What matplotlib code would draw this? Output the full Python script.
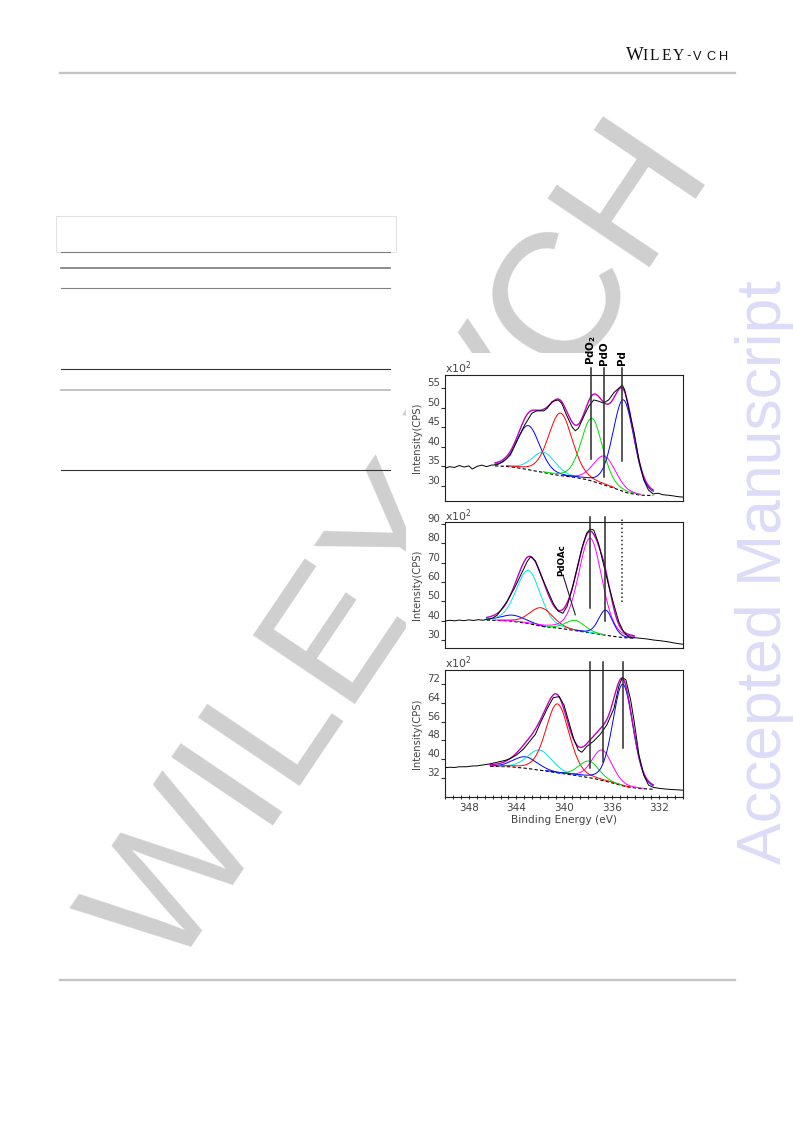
import matplotlib
matplotlib.use("Agg")
import matplotlib.pyplot as plt
import numpy as np
from matplotlib.patches import Rectangle
from matplotlib.ticker import AutoMinorLocator


# ---------------- data ----------------
# binding energy (eV) / counts (x100 CPS)

# top panel
p1_raw_ev = [350.0, 349.6, 349.2, 348.8, 348.4, 348.0, 347.7, 347.3, 346.9, 346.5,
             346.1, 345.6, 345.1, 344.5, 343.8, 343.3, 342.7, 342.3, 341.7, 341.4,
             341.0, 340.5, 340.2, 339.8, 339.3, 339.05, 338.8, 338.35, 337.9, 337.5,
             337.1, 336.7, 336.25, 335.8, 335.4, 335.1, 334.9, 334.6, 334.1, 333.7,
             333.3, 332.9, 332.5, 332.1, 331.7, 331.3, 330.8, 330.4, 330.0]
p1_raw_cps = [34.5, 34.9, 34.7, 35.2, 34.8, 35.1, 34.3, 35.0, 35.3, 34.9,
              35.3, 35.4, 36.2, 37.9, 42.6, 45.6, 48.6, 49.2, 49.2, 49.9,
              51.6, 52.0, 51.2, 48.2, 45.0, 44.1, 44.7, 47.7, 50.5, 52.0,
              51.7, 51.2, 52.0, 53.9, 55.0, 55.8, 54.6, 50.3, 43.5, 36.6,
              31.5, 28.9, 27.9, 28.1, 27.7, 27.6, 27.4, 27.2, 27.1]
p1_bg_ev = [345.8, 345.0, 344.1, 343.3, 342.6, 341.7, 340.9, 340.0, 339.2, 338.1,
            337.0, 335.8, 334.7, 333.6, 332.5]
p1_bg_cps = [35.1, 35.0, 34.7, 34.3, 33.9, 33.4, 32.9, 32.5, 32.2, 31.6,
             30.6, 29.4, 28.2, 27.6, 27.5]
p1_peak_ev = [343.0, 341.7, 340.3, 337.65, 336.6, 335.0]
p1_peak_height = [11.3, 5.2, 16.0, 16.1, 7.4, 23.5]
p1_peak_fwhm = [2.25, 2.3, 2.35, 2.1, 2.2, 2.1]
p1_marker_ev = [337.7, 336.6, 335.1]
p1_marker_low = [36.8, 32.3, 36.4]
p1_marker_labels = [r"$\mathbf{PdO_2}$", "PdO", "Pd"]

# middle panel
p2_raw_ev = [350.0, 349.6, 349.2, 348.8, 348.4, 348.0, 347.6, 347.2, 346.8, 346.5,
             346.0, 345.6, 344.8, 344.1, 343.5, 343.1, 342.8, 342.4, 342.0, 341.4,
             340.9, 340.5, 340.1, 339.75, 339.3, 338.9, 338.5, 338.1, 337.8, 337.5,
             337.1, 336.7, 336.25, 335.8, 335.4, 335.0, 334.6, 334.1, 333.6, 333.0,
             332.5, 331.9, 331.3, 330.7, 330.3, 330.0]
p2_raw_cps = [39.8, 40.2, 39.9, 40.3, 40.0, 40.4, 40.1, 40.5, 40.2, 40.7,
              41.3, 42.9, 49.8, 57.6, 65.3, 70.5, 73.1, 70.9, 64.5, 55.9,
              49.0, 45.0, 43.8, 47.2, 56.7, 67.1, 77.4, 85.2, 87.4, 86.9,
              80.0, 69.7, 58.4, 48.1, 39.5, 34.3, 31.7, 31.2, 30.9, 30.5,
              30.0, 29.6, 29.1, 28.4, 28.0, 27.8]
p2_bg_ev = [346.5, 345.5, 344.5, 343.1, 341.7, 340.3, 338.9, 337.5, 336.1, 335.0, 334.1]
p2_bg_cps = [40.3, 40.1, 39.8, 38.6, 36.9, 36.0, 34.7, 33.4, 32.1, 31.2, 30.9]
p2_peak_ev = [344.25, 343.0, 341.9, 339.05, 337.8, 336.5]
p2_peak_height = [3.2, 27.5, 9.5, 5.3, 49.0, 13.0]
p2_peak_fwhm = [2.5, 2.4, 2.3, 1.9, 2.3, 1.4]
p2_marker_ev = [337.8, 336.55, 335.1]
p2_marker_low = [46.4, 39.8, 49.8]
p2_marker_dotted = [False, False, True]

# bottom panel
p3_raw_ev = [350.0, 349.6, 349.2, 348.8, 348.2, 347.8, 347.3, 346.9, 346.5, 346.0,
             345.4, 344.9, 344.5, 344.0, 343.4, 342.8, 342.4, 342.0, 341.4, 340.9,
             340.4, 340.0, 339.6, 339.2, 338.8, 338.5, 338.1, 337.5, 336.95, 336.4,
             335.8, 335.4, 335.1, 334.8, 334.4, 334.1, 333.7, 333.3, 332.9, 332.5,
             331.9, 331.3, 330.7, 330.0]
p3_raw_cps = [36.3, 36.5, 36.4, 36.7, 36.7, 37.0, 37.1, 37.4, 37.7, 38.2,
              38.9, 39.5, 40.3, 41.7, 44.3, 48.1, 50.6, 55.3, 61.7, 66.3,
              66.7, 63.1, 56.0, 48.9, 43.9, 42.9, 45.3, 47.7, 50.6, 54.6,
              61.7, 71.0, 74.9, 73.9, 65.3, 56.0, 41.7, 33.1, 28.9, 27.9,
              27.4, 27.1, 26.9, 26.7]
p3_bg_ev = [346.2, 345.4, 344.5, 343.1, 341.7, 340.3, 338.9, 337.5, 336.1, 334.7, 333.6, 332.5]
p3_bg_cps = [36.9, 36.8, 36.7, 36.0, 35.0, 33.9, 32.9, 31.7, 30.0, 28.1, 27.4, 27.1]
p3_peak_ev = [343.25, 342.05, 340.55, 337.9, 336.8, 335.05]
p3_peak_height = [4.9, 8.6, 29.5, 7.1, 13.0, 43.4]
p3_peak_fwhm = [2.4, 2.4, 2.3, 2.0, 2.0, 2.0]
p3_marker_ev = [337.8, 336.7, 335.05]
p3_marker_low = [36.3, 38.8, 44.6]

x_ticks = [348, 344, 340, 336, 332]
p1_yticks = [30, 35, 40, 45, 50, 55]
p2_yticks = [30, 40, 50, 60, 70, 80, 90]
p3_yticks = [32, 40, 48, 56, 64, 72]

# component colours in CasaXPS order
COMP_COLORS = ["#0000ff", "#00e5ee", "#ff0000", "#00dd00", "#ff00ff", "#0000ff"]
ENV_COLOR = "#c000c0"
TXT = "#444444"

W, H = 793, 1121
fig = plt.figure(figsize=(W / 100, H / 100), dpi=100)

# ---------------- page furniture ----------------
page = fig.add_axes([0, 0, 1, 1])
page.set_xlim(0, W)
page.set_ylim(H, 0)
page.axis("off")

# watermark, then the white patch of the embedded figure on top of it
page.text(404, 549, "WILEY-VCH", rotation=56, rotation_mode="anchor",
          ha="center", va="center", fontsize=128, family="Liberation Sans",
          color="#cfcfcf", zorder=1)
page.add_patch(Rectangle((406, 353), 294, 487, facecolor="white",
                         edgecolor="none", zorder=2))

page.text(781, 572, "Accepted Manuscript", rotation=90, rotation_mode="anchor",
          ha="center", va="baseline", fontsize=45, family="Liberation Sans",
          color="#dcdcf8", zorder=3)

# header logo, letter by letter
for ch, xc, size, fam in [("W", 634.5, 13.5, "Liberation Serif"),
                          ("I", 644.9, 11.2, "Liberation Serif"),
                          ("L", 654.6, 11.2, "Liberation Serif"),
                          ("E", 666.3, 11.2, "Liberation Serif"),
                          ("Y", 678.8, 11.2, "Liberation Serif"),
                          ("-", 688.3, 9.2, "Liberation Sans"),
                          ("V", 697.5, 9.2, "Liberation Sans"),
                          ("C", 710.8, 9.2, "Liberation Sans"),
                          ("H", 723.8, 9.2, "Liberation Sans")]:
    page.text(xc, 59.5, ch, ha="center", va="baseline", fontsize=size,
              family=fam, color="#111111", zorder=3)

page.plot([60, 735], [73, 73], color="#c4c4c4", lw=1.7, zorder=3)
page.plot([60, 735], [980, 980], color="#c4c4c4", lw=1.7, zorder=3)

# table rules
page.add_patch(Rectangle((55.5, 216), 340, 35.5, fill=False,
                         edgecolor="#e2e2e2", lw=0.8, zorder=3))
for y, c, lw in [(252.3, "#808080", 0.8), (268, "#7a7a7a", 1.2),
                 (288.3, "#808080", 0.8), (369.3, "#333333", 0.8),
                 (390, "#b8b8b8", 1.2), (470, "#333333", 0.8)]:
    page.plot([61, 390], [y, y], color=c, lw=lw, zorder=3)


# ---------------- spectra ----------------
def pseudo_voigt(x, centre, height, fwhm, mix=0.2):
    d = (x - centre) / fwhm
    return height * ((1 - mix) * np.exp(-4 * np.log(2) * d ** 2) + mix / (1 + 4 * d ** 2))


def draw_spectrum(ax, raw_ev, raw_cps, bg_ev, bg_cps, centres, heights, fwhms):
    grid = np.linspace(min(bg_ev), max(bg_ev), 400)
    bg = np.interp(grid, bg_ev[::-1], bg_cps[::-1])
    ax.plot(bg_ev, bg_cps, color="black", lw=0.8, ls=(0, (3, 2)), zorder=2)
    total = np.zeros_like(grid)
    for c, h, w, col in zip(centres, heights, fwhms, COMP_COLORS):
        peak = pseudo_voigt(grid, c, h, w)
        total += peak
        comp = np.where(peak > 0.2, bg + peak, np.nan)
        ax.plot(grid, comp, color=col, lw=0.7, zorder=3)
    ax.plot(grid, bg + total, color=ENV_COLOR, lw=1.0, zorder=4)
    ax.plot(raw_ev, raw_cps, color="black", lw=0.7, zorder=5)


def style_axes(ax, ylim, yticks, show_x=False):
    ax.set_xlim(350, 330)
    ax.set_ylim(*ylim)
    ax.set_yticks(yticks)
    ax.tick_params(axis="y", direction="out", length=3, width=0.8, pad=0.5,
                   labelsize=7.3, labelcolor=TXT, color="#333333")
    for lab in ax.get_yticklabels():
        lab.set_verticalalignment("bottom")
    for sp in ax.spines.values():
        sp.set_color("#222222")
        sp.set_linewidth(0.8)
    if show_x:
        ax.set_xticks(x_ticks)
        ax.xaxis.set_minor_locator(AutoMinorLocator(6))
        ax.tick_params(axis="x", which="both", direction="inout", length=3.5,
                       width=0.8, pad=2.5, labelsize=7.5, labelcolor=TXT,
                       color="#333333")
        ax.set_xlabel("Binding Energy (eV)", fontsize=7.6, color=TXT, labelpad=2)
    else:
        ax.tick_params(axis="x", which="both", bottom=False, labelbottom=False)
    ax.set_ylabel("Intensity(CPS)", fontsize=7.2, color=TXT)
    ax.yaxis.set_label_coords(-0.095, 0.5)
    ax.text(0.0, 0.99, r"x10$^2$", transform=ax.transAxes, ha="left",
            va="bottom", fontsize=7.8, color=TXT)
    ax.patch.set_alpha(0)


def fig_box(left, top, right, bottom):
    return [left / W, 1 - bottom / H, (right - left) / W, (bottom - top) / H]


ax1 = fig.add_axes(fig_box(445, 375, 683, 501))
ax2 = fig.add_axes(fig_box(445, 522.3, 683, 647.7))
ax3 = fig.add_axes(fig_box(445, 670, 683, 796.7))

draw_spectrum(ax1, p1_raw_ev, p1_raw_cps, p1_bg_ev, p1_bg_cps,
              p1_peak_ev, p1_peak_height, p1_peak_fwhm)
draw_spectrum(ax2, p2_raw_ev, p2_raw_cps, p2_bg_ev, p2_bg_cps,
              p2_peak_ev, p2_peak_height, p2_peak_fwhm)
draw_spectrum(ax3, p3_raw_ev, p3_raw_cps, p3_bg_ev, p3_bg_cps,
              p3_peak_ev, p3_peak_height, p3_peak_fwhm)

style_axes(ax1, (26.1, 58.4), p1_yticks)
style_axes(ax2, (26.0, 90.9), p2_yticks)
style_axes(ax3, (23.9, 78.1), p3_yticks, show_x=True)

# reference lines for the Pd species
line_kw = dict(color="#2a2a2a", lw=1.1, zorder=6, clip_on=False)
top1 = 60.2
for x, lo, lab in zip(p1_marker_ev, p1_marker_low, p1_marker_labels):
    ax1.plot([x, x], [lo, top1], **line_kw)
    ax1.annotate(lab, xy=(x, top1), xytext=(0, 2.5), textcoords="offset points",
                 rotation=90, ha="center", va="bottom", fontsize=7.4,
                 fontweight="bold", annotation_clip=False)

top2 = 93.8
for x, lo, dotted in zip(p2_marker_ev, p2_marker_low, p2_marker_dotted):
    ax2.plot([x, x], [lo, top2], ls=":" if dotted else "-", **line_kw)
ax2.plot([340.04, 339.05], [62.7, 43.0], color="#222222", lw=0.8, zorder=6)
ax2.text(340.2, 62.9, "PdOAc", rotation=90, ha="center", va="bottom",
         fontsize=6.3, fontweight="bold")

top3 = 81.4
for x, lo in zip(p3_marker_ev, p3_marker_low):
    ax3.plot([x, x], [lo, top3], **line_kw)

fig.savefig("out.png", dpi=100)
